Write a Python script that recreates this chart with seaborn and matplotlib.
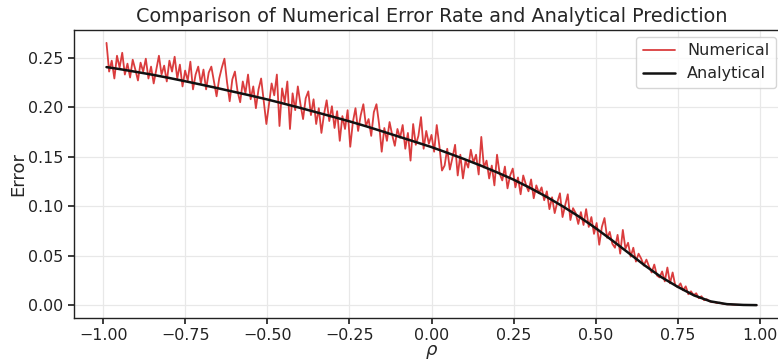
import numpy as np
import pandas as pd
import matplotlib
matplotlib.use("Agg")
import matplotlib.pyplot as plt
import seaborn as sns

# Simulated error rate, sampled on an evenly spaced rho grid from -0.99 to 0.99
numerical = [
    0.265, 0.236, 0.247, 0.229, 0.252, 0.240, 0.255, 0.233, 0.244, 0.230, 0.248, 0.238,
    0.227, 0.245, 0.236, 0.249, 0.229, 0.241, 0.224, 0.238, 0.252, 0.233, 0.242, 0.226, 0.247,
    0.236, 0.251, 0.229, 0.243, 0.221, 0.237, 0.227, 0.246, 0.218, 0.233, 0.241, 0.224, 0.238,
    0.218, 0.235, 0.241, 0.226, 0.211, 0.229, 0.240, 0.249, 0.225, 0.206, 0.228, 0.236, 0.216,
    0.205, 0.226, 0.214, 0.233, 0.208, 0.221, 0.199, 0.218, 0.229, 0.206, 0.183, 0.203, 0.224,
    0.212, 0.233, 0.181, 0.219, 0.205, 0.226, 0.178, 0.214, 0.197, 0.221, 0.203, 0.188, 0.209,
    0.216, 0.192, 0.208, 0.183, 0.199, 0.174, 0.193, 0.207, 0.186, 0.201, 0.179, 0.196, 0.166,
    0.191, 0.178, 0.197, 0.160, 0.185, 0.199, 0.176, 0.192, 0.203, 0.181, 0.188, 0.171, 0.195,
    0.203, 0.183, 0.155, 0.179, 0.166, 0.185, 0.172, 0.161, 0.178, 0.169, 0.182, 0.158, 0.174,
    0.146, 0.183, 0.162, 0.171, 0.190, 0.158, 0.176, 0.163, 0.172, 0.155, 0.182, 0.161, 0.136,
    0.141, 0.158, 0.137, 0.149, 0.162, 0.131, 0.152, 0.128, 0.146, 0.139, 0.157, 0.144, 0.152,
    0.132, 0.170, 0.139, 0.146, 0.128, 0.141, 0.121, 0.152, 0.133, 0.126, 0.140, 0.118, 0.131,
    0.138, 0.119, 0.129, 0.112, 0.131, 0.122, 0.115, 0.127, 0.108, 0.121, 0.113, 0.119, 0.106,
    0.115, 0.097, 0.109, 0.093, 0.104, 0.113, 0.089, 0.101, 0.112, 0.086, 0.098, 0.093, 0.082,
    0.094, 0.081, 0.097, 0.079, 0.089, 0.072, 0.083, 0.061, 0.079, 0.088, 0.068, 0.074, 0.062,
    0.058, 0.071, 0.052, 0.076, 0.057, 0.063, 0.049, 0.058, 0.044, 0.052, 0.047, 0.040, 0.046,
    0.039, 0.033, 0.041, 0.030, 0.028, 0.034, 0.024, 0.038, 0.022, 0.033, 0.020, 0.018, 0.022,
    0.015, 0.019, 0.011, 0.014, 0.010, 0.012, 0.007, 0.009, 0.005, 0.006, 0.004, 0.003, 0.003,
    0.002, 0.0025, 0.0015, 0.0012, 0.0008, 0.0009, 0.0005, 0.0004, 0.0003, 0.0002, 0.0002,
    0.0001, 0.0001, 0.0, 0.0, 0.0,
]
rho_numerical = np.linspace(-0.99, 0.99, len(numerical))

# Analytical prediction
rho_analytical = [
    -0.99, -0.95, -0.90, -0.85, -0.80, -0.75, -0.70, -0.65, -0.60, -0.55, -0.50,
    -0.45, -0.40, -0.35, -0.30, -0.25, -0.20, -0.15, -0.10, -0.05, 0.00,
    0.05, 0.10, 0.15, 0.20, 0.25, 0.30, 0.35, 0.40, 0.45, 0.50,
    0.55, 0.60, 0.65, 0.70, 0.75, 0.80, 0.85, 0.90, 0.95, 0.99,
]
analytical = [
    0.2405, 0.2385, 0.2357, 0.2328, 0.2296, 0.2262, 0.2227, 0.2191, 0.2154, 0.2117, 0.2078,
    0.2036, 0.1993, 0.1948, 0.1903, 0.1857, 0.1808, 0.1756, 0.1703, 0.1650, 0.1597,
    0.1537, 0.1475, 0.1410, 0.1341, 0.1268, 0.1185, 0.1095, 0.0998, 0.0893, 0.0778,
    0.0655, 0.0528, 0.0400, 0.0283, 0.0185, 0.0098, 0.0038, 0.0010, 0.0002, 0.0000,
]

x_ticks = [-1.00, -0.75, -0.50, -0.25, 0.00, 0.25, 0.50, 0.75, 1.00]
y_ticks = [0.00, 0.05, 0.10, 0.15, 0.20, 0.25]


def fmt(v):
    return f"{v:.2f}".replace("-", "\u2212")


sns.set_theme(style="ticks")
plt.rcParams["font.family"] = ["DejaVu Sans"]

df_num = pd.DataFrame({"rho": rho_numerical, "err": numerical})
df_ana = pd.DataFrame({"rho": rho_analytical, "err": analytical})

fig = plt.figure(figsize=(7.78, 3.62), dpi=100)
ax = fig.add_axes([74 / 778, 44 / 362, 715 / 778, 288 / 362])

sns.lineplot(data=df_num, x="rho", y="err", ax=ax, color="#d62728",
             linewidth=1.3, alpha=0.9, label="Numerical")
sns.lineplot(data=df_ana, x="rho", y="err", ax=ax, color="#111111",
             linewidth=1.8, label="Analytical")

ax.set_xticks(x_ticks)
ax.set_xticklabels([fmt(t) for t in x_ticks])
ax.set_yticks(y_ticks)
ax.set_yticklabels([fmt(t) for t in y_ticks])
ax.set_xlim(-1.089, 1.089)
ax.set_ylim(-0.013, 0.278)
ax.tick_params(labelsize=11.4, colors="#222222", length=4)
ax.grid(True, color="#e8e8e8", linewidth=0.9)
for s in ax.spines.values():
    s.set_color("#222222")
    s.set_linewidth(1.0)

ax.set_xlabel(r"$\rho$", fontsize=13, labelpad=0)
ax.set_ylabel("Error", fontsize=13, labelpad=1)
ax.set_title("Comparison of Numerical Error Rate and Analytical Prediction",
             fontsize=13.9, pad=6)

ax.legend(loc="upper right", bbox_to_anchor=(776 / 778, 1 - 37 / 362),
          bbox_transform=fig.transFigure, borderaxespad=0, fontsize=11.5,
          frameon=True, handlelength=2.0)

fig.savefig("out.png", dpi=100)
